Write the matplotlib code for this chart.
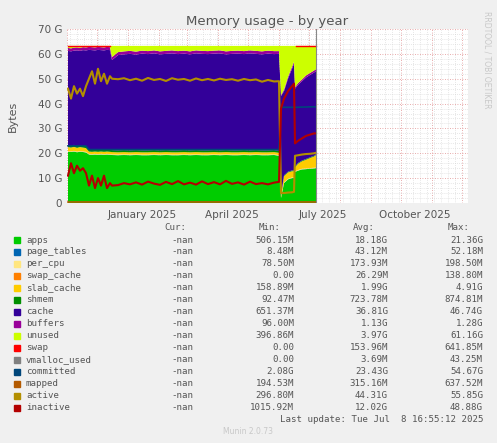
import matplotlib.pyplot as plt
import matplotlib.dates as mdates
import numpy as np
import datetime as dt

# sample days counted from 2024-11-02
days = [0, 3, 6, 9, 12, 15, 18, 21, 24, 27, 30, 33, 36, 39, 42, 44,
        50, 56, 62, 68, 74, 80, 86, 92, 98, 104, 110, 116, 122, 128,
        134, 140, 146, 152, 158, 164, 170, 176, 182, 188, 194, 200, 206,
        211, 213, 216, 220, 224, 226, 227, 230, 234, 238, 242, 246, 248]

apps = [20.6, 20.5, 20.7, 20.4, 20.6, 20.5, 20.3, 19.5, 19.4, 19.5, 19.4, 19.5, 19.4, 19.5, 19.4, 19.3,
        19.2, 19.3, 19.2, 19.3, 19.2, 19.2, 19.3, 19.2, 19.3, 19.2, 19.2, 19.3, 19.2, 19.3,
        19.2, 19.2, 19.3, 19.2, 19.3, 19.2, 19.2, 19.3, 19.2, 19.3, 19.2, 19.2, 19.3,
        19.0, 2.0, 8.0, 9.5, 10.0, 10.0, 12.5, 13.0, 13.5, 13.6, 13.8, 13.9, 14.0]
page_tables = [0.05] * 56
per_cpu = [0.2] * 56
swap_cache = [0.03] * 56
slab_cache = [1.6, 1.5, 1.6, 1.5, 1.6, 1.5, 1.5, 0.9, 0.9, 0.9, 0.9, 0.9, 0.9, 0.9, 0.9, 0.9,
              0.9, 0.9, 0.9, 0.9, 0.9, 0.9, 0.9, 0.9, 0.9, 0.9, 0.9, 0.9, 0.9, 0.9,
              0.9, 0.9, 0.9, 0.9, 0.9, 0.9, 0.9, 0.9, 0.9, 0.9, 0.9, 0.9, 0.9,
              0.9, 0.5, 2.5, 2.5, 2.5, 2.5, 1.5, 2.5, 3.0, 3.5, 4.0, 4.5, 5.0]
shmem = [0.8] * 43 + [0.8, 0.3, 0.3, 0.3, 0.3, 0.3, 0.3, 0.3, 0.3, 0.3, 0.3, 0.3, 0.3]
cache_top = [61.2, 61.0, 61.3, 61.4, 61.2, 61.5, 61.4, 61.6, 61.5, 61.4, 61.6, 61.5, 61.4, 61.6, 61.5, 57.5,
             59.5, 59.8, 60.0, 59.7, 60.1, 59.9, 60.2, 59.8, 60.0, 60.2, 59.9, 60.1, 59.8, 60.2,
             60.0, 59.9, 60.1, 60.2, 59.8, 60.0, 60.1, 59.9, 60.2, 60.0, 59.8, 60.1, 59.9,
             60.0, 43.0, 45.0, 50.0, 54.0, 56.0, 46.0, 47.5, 49.0, 50.5, 51.5, 52.5, 53.0]
buffers = [1.2] * 43 + [1.1, 0.4, 0.6, 0.7, 0.8, 0.8, 0.6, 0.7, 0.7, 0.8, 0.8, 0.8, 0.8]
mem_total = 63.2

active = [46, 42, 47, 44, 46, 43, 47, 50, 53, 48, 54, 49, 52, 48, 51, 50,
          49.8, 50.2, 49.4, 50.0, 49.2, 50.3, 49.5, 49.9, 49.1, 50.2, 49.6, 49.9, 49.2, 50.1,
          49.4, 49.9, 49.3, 50.0, 49.5, 49.8, 49.2, 49.9, 49.4, 49.7, 48.8, 49.5, 48.9,
          49.0, 4.0, 4.0, 4.2, 4.3, 4.5, 19.0, 19.2, 19.5, 19.7, 19.8, 20.0, 20.2]
inactive = [11, 16, 12, 15, 13, 14, 12, 7, 11, 6, 10, 7, 11, 6, 8, 7,
            7.2, 8.0, 7.5, 8.3, 7.4, 8.6, 7.8, 7.3, 8.5, 7.6, 8.8, 7.5, 8.2, 7.4,
            8.7, 7.6, 8.4, 7.5, 8.9, 7.7, 8.3, 7.4, 8.6, 7.6, 8.0, 7.5, 8.2,
            8.5, 38.0, 42.0, 45.0, 47.0, 48.0, 24.0, 25.0, 26.0, 27.0, 27.5, 28.0, 28.0]
committed = [23.0] * 7 + [21.5] * 36 + [21.5, 38.5, 38.5, 38.5, 38.5, 38.5, 38.5, 38.5, 38.6, 38.6, 38.7, 38.7, 38.7]
mapped = [0.3] * 56
swap_days = [0, 42, 228, 248]
swap_level = [63.3, 63.3, 63.0, 63.0]

legend_rows = [
    ("apps", "#00cc00", "506.15M", "18.18G", "21.36G"),
    ("page_tables", "#0066b3", "8.48M", "43.12M", "52.18M"),
    ("per_cpu", "#ffe680", "78.50M", "173.93M", "198.50M"),
    ("swap_cache", "#ff8000", "0.00", "26.29M", "138.80M"),
    ("slab_cache", "#ffcc00", "158.89M", "1.99G", "4.91G"),
    ("shmem", "#008f00", "92.47M", "723.78M", "874.81M"),
    ("cache", "#330099", "651.37M", "36.81G", "46.74G"),
    ("buffers", "#990099", "96.00M", "1.13G", "1.28G"),
    ("unused", "#ccff00", "396.86M", "3.97G", "61.16G"),
    ("swap", "#ff0000", "0.00", "153.96M", "641.85M"),
    ("vmalloc_used", "#808080", "0.00", "3.69M", "43.25M"),
    ("committed", "#00467a", "2.08G", "23.43G", "54.67G"),
    ("mapped", "#b35a00", "194.53M", "315.16M", "637.52M"),
    ("active", "#b38f00", "296.80M", "44.31G", "55.85G"),
    ("inactive", "#b30000", "1015.92M", "12.02G", "48.88G"),
]
col = {r[0]: r[1] for r in legend_rows}

start = dt.datetime(2024, 11, 2)
t = [start + dt.timedelta(days=d) for d in days]
a = np.array
lower = a(apps) + a(page_tables) + a(per_cpu) + a(swap_cache) + a(slab_cache) + a(shmem)
cache = a(cache_top) - lower
unused = mem_total - a(cache_top) - a(buffers)

fig = plt.figure(figsize=(4.97, 4.43), dpi=100, facecolor="#f0f0f0")
ax = fig.add_axes([67/497, 1-203/443, 401/497, 174/443])
ax.set_facecolor("white")
ax.set_axisbelow(True)
ax.stackplot(t, apps, page_tables, per_cpu, swap_cache, slab_cache, shmem, cache, buffers, unused,
             colors=[col["apps"], col["page_tables"], col["per_cpu"], col["swap_cache"], col["slab_cache"],
                     col["shmem"], col["cache"], col["buffers"], col["unused"]], linewidth=0, zorder=2)
ax.plot(t, committed, color=col["committed"], lw=1.2, zorder=3)
ax.plot(t, mapped, color=col["mapped"], lw=1.2, zorder=3)
ax.plot(t, active, color=col["active"], lw=1.5, zorder=3)
ax.plot(t, inactive, color=col["inactive"], lw=1.5, zorder=3)
ax.plot([start + dt.timedelta(days=d) for d in swap_days[:2]], swap_level[:2], color=col["swap"], lw=1, zorder=3)
ax.plot([start + dt.timedelta(days=d) for d in swap_days[2:]], swap_level[2:], color=col["swap"], lw=1, zorder=3)
ax.axvline(start + dt.timedelta(days=248), color="#888888", lw=0.8, zorder=3)

ax.set_xlim(start - dt.timedelta(days=1), start + dt.timedelta(days=400))
ax.set_ylim(0, 70)
ax.set_yticks(range(0, 71, 10))
ax.set_yticklabels(["0"] + [f"{v} G" for v in range(10, 71, 10)])
ax.set_yticks(range(0, 71, 2), minor=True)
ax.xaxis.set_major_locator(mdates.MonthLocator())
ax.xaxis.set_minor_locator(mdates.WeekdayLocator(byweekday=0))
ax.set_xticklabels([])
for lbl, d in [("January 2025", dt.datetime(2025, 1, 15)), ("April 2025", dt.datetime(2025, 4, 15)),
               ("July 2025", dt.datetime(2025, 7, 15)), ("October 2025", dt.datetime(2025, 10, 15))]:
    ax.text(d, -3, lbl, ha="center", va="top", fontsize=7.5, color="#555555")
ax.grid(which="major", color="#e09090", ls=(0, (1, 2)), lw=0.6)
ax.grid(which="minor", color="#d0d0d0", ls=(0, (1, 2)), lw=0.5)
ax.tick_params(axis="y", labelsize=7.5, colors="#555555", length=0)
ax.tick_params(axis="x", length=0)
ax.tick_params(which="minor", length=0)
for s in ax.spines.values():
    s.set_visible(False)
ax.set_ylabel("Bytes", fontsize=8, color="#555555", labelpad=14)
ax.set_title("Memory usage - by year", fontsize=9.5, color="#555555", pad=3)
fig.text(487/497, 1-60/443, "RRDTOOL / TOBI OETIKER", rotation=270, fontsize=5.5, color="#c8c8c8",
         ha="center", va="center")

mono = "DejaVu Sans Mono"
fs = 6.6
y0 = 228
for txt, xr in [("Cur:", 186), ("Min:", 281), ("Avg:", 375), ("Max:", 470)]:
    fig.text(xr/497, 1-y0/443, txt, ha="right", va="center", family=mono, fontsize=fs, color="#555555")
for i, (name, c, mn, av, mx) in enumerate(legend_rows):
    y = 1 - (240 + 12*i)/443
    fig.patches.append(plt.Rectangle((14/497, y - 3/443), 6/497, 6/443, transform=fig.transFigure,
                                     color=c, figure=fig))
    fig.text(26/497, y, name, ha="left", va="center", family=mono, fontsize=fs, color="#555555")
    fig.text(193/497, y, "-nan", ha="right", va="center", family=mono, fontsize=fs, color="#555555")
    fig.text(294/497, y, mn, ha="right", va="center", family=mono, fontsize=fs, color="#555555")
    fig.text(388/497, y, av, ha="right", va="center", family=mono, fontsize=fs, color="#555555")
    fig.text(483/497, y, mx, ha="right", va="center", family=mono, fontsize=fs, color="#555555")
fig.text(483/497, 1-420/443, "Last update: Tue Jul  8 16:55:12 2025", ha="right", va="center",
         family=mono, fontsize=fs, color="#555555")
fig.text(248/497, 1-432/443, "Munin 2.0.73", ha="center", va="center", fontsize=5.5, color="#c8c8c8")

fig.savefig("out.png", dpi=100, facecolor=fig.get_facecolor())
